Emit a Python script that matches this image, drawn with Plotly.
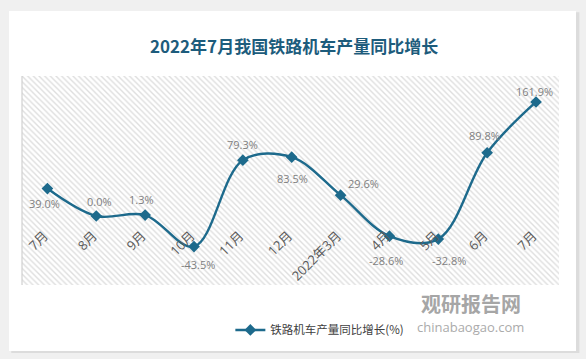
import plotly.graph_objects as go

categories = ["7月", "8月", "9月", "10月", "11月", "12月", "2022年3月", "4月", "5月", "6月", "7月"]
values = [39.0, 0.0, 1.3, -43.5, 79.3, 83.5, 29.6, -28.6, -32.8, 89.8, 161.9]
series_name = "铁路机车产量同比增长(%)"
title_text = "2022年7月我国铁路机车产量同比增长"
# label offsets in pixels (dx, dy), styling only
label_offsets = [(-3, -15), (3, 14), (-4, 16), (4, -18), (0, 16), (1, -21),
                 (23, 12), (-3, -24), (11, -21), (-3, 17), (-2, 10)]

idx = list(range(len(categories)))
LINE = "#1d6a8c"
FONT = "Open Sans, Noto Sans CJK SC, sans-serif"

fig = go.Figure()

# hatched plot background (on hidden base axes)
fig.add_trace(go.Scatter(
    x=[0, 1, 1, 0, 0], y=[0, 0, 1, 1, 0], xaxis="x", yaxis="y",
    mode="none", fill="toself", fillcolor="rgba(0,0,0,0)",
    fillpattern=dict(shape="\\", fgcolor="#bebebe", bgcolor="white", size=4, solidity=0.35),
    hoverinfo="skip", showlegend=False))

fig.add_trace(go.Scatter(
    x=idx, y=values, name=series_name, xaxis="x2", yaxis="y2",
    mode="lines+markers",
    line=dict(color=LINE, width=2.4, shape="spline", smoothing=1.0),
    marker=dict(symbol="diamond", size=9, color=LINE),
    cliponaxis=False))

for i, v in enumerate(values):
    dx, dy = label_offsets[i]
    fig.add_annotation(x=idx[i], y=v, xref="x2", yref="y2", text=f"{v:.1f}%",
                       showarrow=False, xshift=dx, yshift=dy,
                       font=dict(size=11, color="#7f7f7f", family=FONT))

# card shadow and card
fig.add_shape(type="rect", xref="paper", yref="paper",
              x0=-0.020, x1=1.038, y0=-0.325, y1=1.305,
              fillcolor="#dcdcdc", line_width=0, layer="below")
fig.add_shape(type="rect", xref="paper", yref="paper",
              x0=-0.0242, x1=1.0317, y0=-0.316, y1=1.311,
              fillcolor="white", line_width=0, layer="below")
# left border line of plot area
fig.add_shape(type="line", xref="paper", yref="paper", x0=0, x1=0, y0=0, y1=1,
              line=dict(color="#d0d0d0", width=1.2))

fig.add_annotation(text="<b>" + title_text + "</b>", xref="paper", yref="paper",
                   x=0.506, y=1.147, xanchor="center", yanchor="middle", showarrow=False,
                   font=dict(size=17, color="#1d5c7c", family="Noto Sans CJK SC"))

# watermark
fig.add_annotation(text="<b>观研报告网</b>", xref="paper", yref="paper",
                   x=0.837, y=-0.09, showarrow=False, xanchor="center", yanchor="middle",
                   font=dict(size=20, color="#a6a6a6", family="Noto Sans CJK SC"))
fig.add_annotation(text="chinabaogao.com", xref="paper", yref="paper",
                   x=0.835, y=-0.2, showarrow=False, xanchor="center", yanchor="middle",
                   font=dict(size=13, color="#ababab", family="Open Sans"))

fig.update_layout(
    width=586, height=359,
    margin=dict(l=22, r=27, t=76, b=74, autoexpand=False),
    paper_bgcolor="#f0f0f0", plot_bgcolor="rgba(0,0,0,0)",
    font=dict(family=FONT),
    showlegend=True,
    legend=dict(orientation="h", x=0.388, y=-0.215, xanchor="left", yanchor="middle",
                bgcolor="rgba(0,0,0,0)", font=dict(size=11.5, color="#404040", family="Noto Sans CJK SC")),
    xaxis=dict(range=[0, 1], visible=False, fixedrange=True),
    yaxis=dict(range=[0, 1], visible=False, fixedrange=True),
    xaxis2=dict(range=[-0.52, 10.47], tickvals=idx, ticktext=categories, tickangle=-45,
                overlaying="x", anchor="free", position=0.330,
                showline=False, showgrid=False, zeroline=False,
                ticks="outside", ticklen=6, tickcolor="rgba(0,0,0,0)",
                ticklabelshift=-3,
                tickfont=dict(size=13, color="#595959", family=FONT)),
    yaxis2=dict(range=[-98, 198.8], overlaying="y", showticklabels=False, showgrid=False,
                zeroline=True, zerolinecolor="#d6d6d6", zerolinewidth=1),
)

fig.write_html("out.html", config={"displayModeBar": False},
               post_script="document.body.style.margin='0';document.body.style.overflow='hidden';")
